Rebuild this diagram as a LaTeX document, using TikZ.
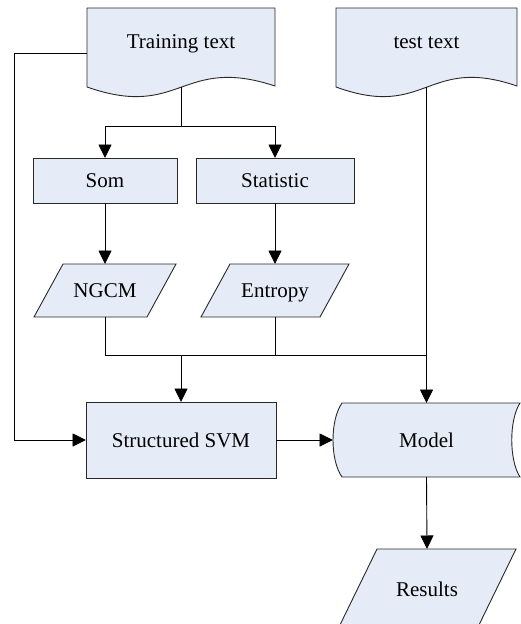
\documentclass[tikz,border=0pt]{standalone}
\usepackage{fontspec}
\setmainfont{Liberation Serif}
\usetikzlibrary{arrows.meta,calc,backgrounds}

\definecolor{boxfill}{RGB}{230,236,247}
\definecolor{edgegray}{RGB}{40,40,40}

\tikzset{
  base/.style={font=\fontsize{21}{25}\selectfont, inner sep=0pt, outer sep=0pt,
               text height=14.5pt, text depth=0pt},
  procbox/.style={base, rectangle, draw=edgegray, fill=boxfill, line width=0.9pt},
  shapeonly/.style={base, rectangle},
  docnode/.style={shapeonly, text depth=13.5pt},
  outline/.style={draw=edgegray, fill=boxfill, line width=0.9pt},
  flow/.style={line width=0.9pt, -{Triangle[length=13.5pt,width=13pt]}},
  plain/.style={line width=0.9pt},
}

% document symbol with a wavy lower edge, drawn around node #1
\newcommand\docoutline[1]{%
  \path[outline] let \p1=(#1.north west), \p2=(#1.south east) in
    (\p1) -- (\x2,\y1) -- (\x2,{\y2+1pt})
    .. controls ({0.5*\x1+0.5*\x2},{\y2+32pt}) and ({0.5*\x1+0.5*\x2},{\y2-33pt}) ..
    (\x1,\y2) -- cycle;}

% slanted data symbol around node #1, #2 = half of the horizontal slant
\newcommand\slantoutline[2]{%
  \path[outline] ($(#1.north west)+(#2,0)$) -- ($(#1.north east)+(#2,0)$)
    -- ($(#1.south east)-(#2,0)$) -- ($(#1.south west)-(#2,0)$) -- cycle;}

% stored-data symbol around node #1
\newcommand\storeoutline[1]{%
  \path[outline] let \p1=(#1.north west), \p2=(#1.south east) in
    ({\x1+9pt},\y1) -- (\x2,\y1)
    .. controls ({\x2-11pt},{0.77*\y1+0.23*\y2}) and ({\x2-11pt},{0.23*\y1+0.77*\y2}) ..
    (\x2,\y2) -- ({\x1+9pt},\y2)
    .. controls ({\x1-3pt},{0.23*\y1+0.77*\y2}) and ({\x1-3pt},{0.77*\y1+0.23*\y2}) ..
    ({\x1+9pt},\y1) -- cycle;}

\begin{document}
\begin{tikzpicture}[x=1pt, y=-1pt]
\useasboundingbox (0,0) rectangle (520,624);

% nodes
\node[docnode, minimum width=188pt, minimum height=79pt] (train) at (181,47.5) {Training text};
\node[docnode, minimum width=181pt, minimum height=79pt] (test) at (426.5,47.5) {test text};
\node[procbox, minimum width=144pt, minimum height=45pt] (som) at (105,180.5) {Som};
\node[procbox, minimum width=158pt, minimum height=45pt] (stat) at (275,180.5) {Statistic};
\node[shapeonly, minimum width=113pt, minimum height=53pt] (ngcm) at (105,290.5) {NGCM};
\node[shapeonly, minimum width=119pt, minimum height=53pt] (entropy) at (275,290.5) {Entropy};
\node[procbox, minimum width=190pt, minimum height=76pt] (svm) at (181,440) {Structured SVM};
\node[shapeonly, minimum width=187pt, minimum height=74pt] (model) at (426.5,440) {Model};
\node[shapeonly, minimum width=139pt, minimum height=80pt] (results) at (427,589) {Results};

% symbol outlines behind the labels
\begin{scope}[on background layer]
  \docoutline{train}
  \docoutline{test}
  \slantoutline{ngcm}{14.5}
  \slantoutline{entropy}{14.5}
  \storeoutline{model}
  \slantoutline{results}{19.5}
\end{scope}

% connectors
\coordinate (split) at (181,126);
\coordinate (join) at (181,355);
\coordinate (rail) at (14,53);

\draw[plain] (train.south) -- (split);
\draw[flow] (split) -| (som.north);
\draw[flow] (split) -| (stat.north);
\draw[flow] (som.south) -- (ngcm.north);
\draw[flow] (stat.south) -- (entropy.north);
\draw[plain] (ngcm.south) |- (test.south |- join);
\draw[plain] (entropy.south) -- (entropy.south |- join);
\draw[flow] (join) -- (svm.north);
\draw[flow] (test.south) -- (model.north);
\draw[flow] ($(train.west)+(0,5.5)$) -- (rail) |- (svm.west);
\draw[flow] (svm.east) -- (model.west);
\draw[flow] (model.south) -- (results.north);
\end{tikzpicture}
\end{document}
